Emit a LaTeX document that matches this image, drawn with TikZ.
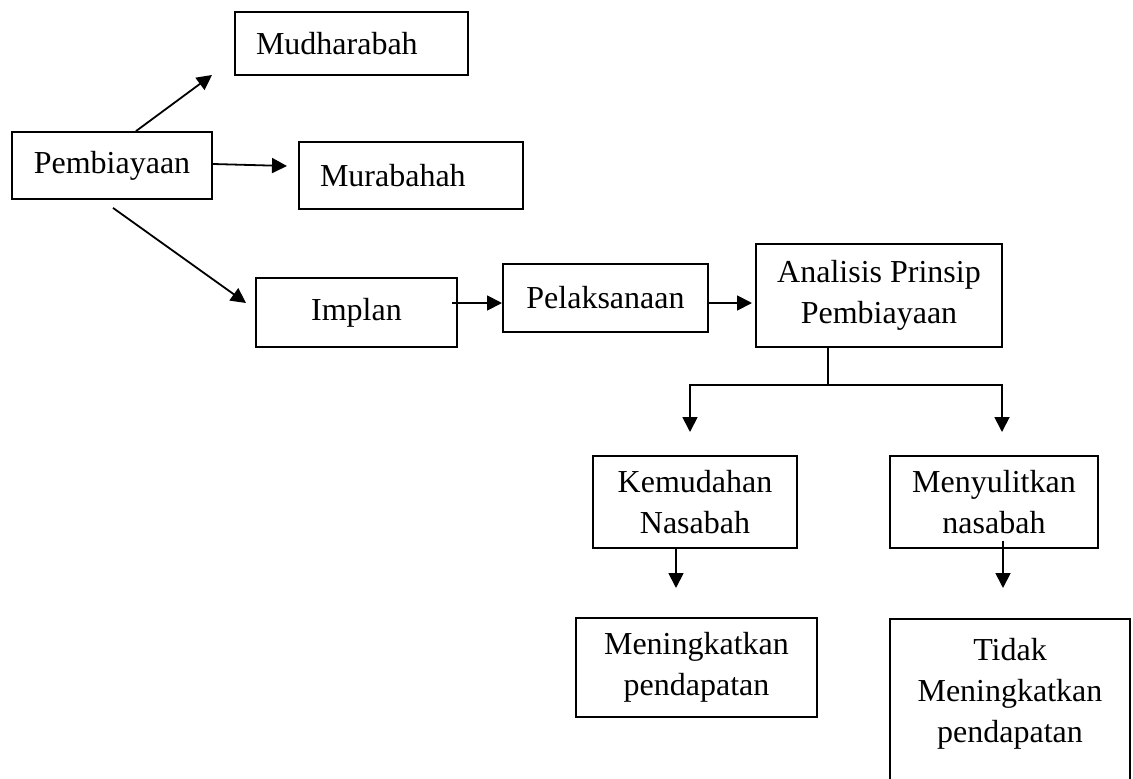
\documentclass[tikz,border=0pt]{standalone}
\usepackage{fontspec}
\setmainfont{Liberation Serif}
\usetikzlibrary{arrows.meta,calc}
\begin{document}
\begin{tikzpicture}[x=1pt,y=-1pt,
  every node/.style={font=\fontsize{32}{41}\selectfont},
  box/.style={draw, line width=1.8pt, align=center, inner sep=0pt},
  leftbox/.style={box, align=left, inner xsep=21pt},
  link/.style={line width=1.8pt},
  arrow/.style={link, -{Triangle[length=15pt,width=15pt]}}]
\useasboundingbox (0,0) rectangle (1133,779);
\clip (0,0) rectangle (1133,779);
\fill[white] (0,0) rectangle (1133,779);

% boxes
\node[leftbox, minimum width=233pt, minimum height=63pt, text width=191pt] (mud) at (351.5,43.5) {Mudharabah};
\node[box, minimum width=200pt, minimum height=67pt] (pemb) at (112,165.5) {Pembiayaan};
\node[leftbox, minimum width=224pt, minimum height=67pt, text width=182pt] (mura) at (411,175.5) {Murabahah};
\node[box, minimum width=201pt, minimum height=69pt] (impl) at (356.5,312.5) {Implan};
\node[box, minimum width=205pt, minimum height=68pt] (pel) at (605.5,298) {Pelaksanaan};
\node[box, minimum width=246pt, minimum height=103pt] (anal) at (879,295.5) {Analisis Prinsip\\Pembiayaan};
\node[box, minimum width=204pt, minimum height=92pt] (kem) at (695,502) {Kemudahan\\Nasabah};
\node[box, minimum width=208pt, minimum height=92pt] (meny) at (994,502) {Menyulitkan\\nasabah};
\node[box, minimum width=241pt, minimum height=99pt] (mening) at (696.5,667.5) {Meningkatkan\\pendapatan};
% this box runs on past the lower edge of the page
\node[box, minimum width=240pt, minimum height=220pt, anchor=north] (tidak) at (1010,618) {};
\node[inner sep=0pt, align=center, anchor=north] (tidakText) at (tidak.north |- 0,638) {Tidak\\Meningkatkan\\pendapatan};

% free ends of the connectors
\coordinate (mudIn) at (212,75);
\coordinate (muraIn) at (287,166);
\coordinate (implIn) at (246,303);
\coordinate (implOut) at ($(impl.east)+(-6,0)$);
\coordinate (pelIn) at (502,303);
\coordinate (analIn) at (752,303);
\coordinate (split) at (828,385);
\coordinate (kemIn) at (690,432);
\coordinate (menyIn) at (1002,432);
\coordinate (meningIn) at (676,588);
\coordinate (tidakIn) at (1003,588);

% connectors
\draw[arrow] ($(pemb.north)+(24,0)$) -- (mudIn);
\draw[arrow] (pemb.east |- 0,164) -- (muraIn);
\draw[arrow] ($(pemb.south)+(1,8)$) -- (implIn);
\draw[arrow] (implOut |- pelIn) -- (pelIn);
\draw[arrow] (pel.east |- analIn) -- (analIn);
\draw[link] (split |- anal.south) -- (split);
\draw[arrow] (split) -| (kemIn);
\draw[arrow] (split) -| (menyIn);
\draw[arrow] (meningIn |- kem.south) -- (meningIn);
\draw[arrow] ($(tidakIn |- meny.south)+(0,-8)$) -- (tidakIn);
\end{tikzpicture}
\end{document}
